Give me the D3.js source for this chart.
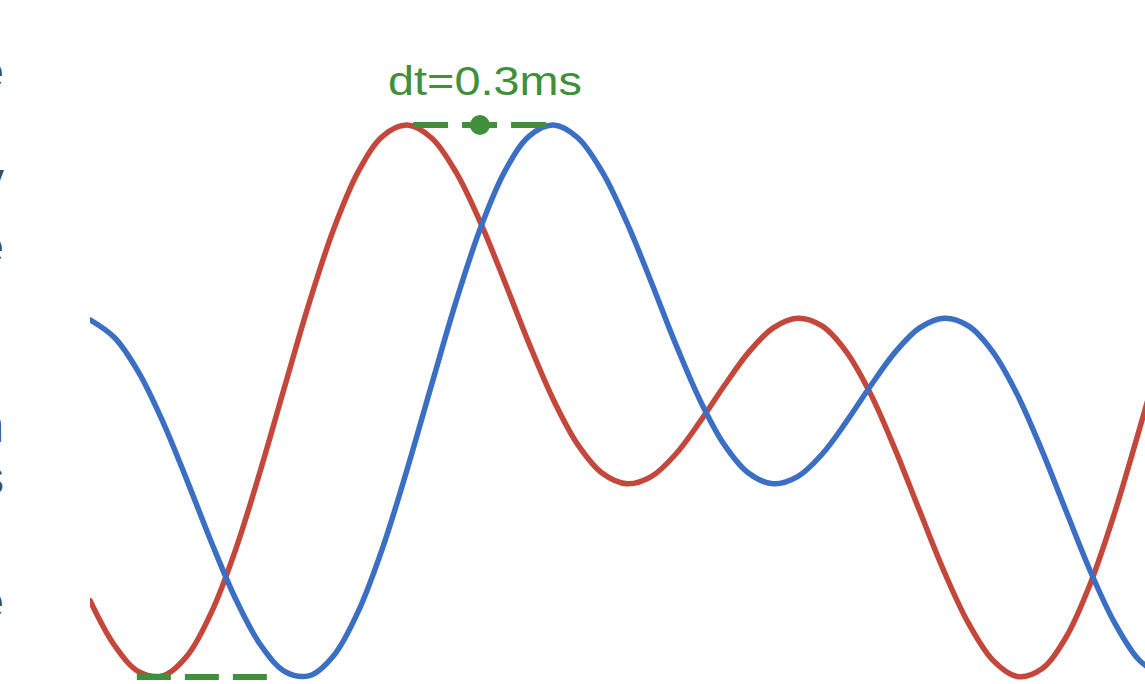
<!DOCTYPE html>
<html>
<head>
<meta charset="utf-8">
<script src="https://cdn.jsdelivr.net/npm/d3@7"></script>
<style>
  html, body { margin: 0; padding: 0; background: #ffffff; overflow: hidden; }
  svg { display: block; }
</style>
</head>
<body>
<svg id="chart" width="1145" height="684"></svg>
<script>
// ---- data (time in ms, amplitude normalised) ----
const timeMs = [0.00,0.05,0.10,0.15,0.20,0.25,0.30,0.35,0.40,0.45,0.50,0.55,0.60,0.65,0.70,0.75,0.80,0.85,0.90,0.95,
                1.00,1.05,1.10,1.15,1.20,1.25,1.30,1.35,1.40,1.45,1.50,1.55,1.60,1.65,1.70,1.75,1.80,1.85,1.90,1.95,
                2.00,2.05,2.10,2.15,2.20];
const redValues = [-0.723,-0.885,-0.981,-0.995,-0.921,-0.761,-0.530,-0.247,0.059,0.360,0.626,0.832,0.960,1.000,0.953,0.829,
                   0.647,0.431,0.207,0.003,-0.159,-0.262,-0.300,-0.274,-0.193,-0.075,0.056,0.177,0.265,0.300,0.272,0.178,
                   0.024,-0.176,-0.398,-0.617,-0.805,-0.939,-0.998,-0.971,-0.856,-0.661,-0.403,-0.105,0.203];
const blueValues = [0.294,0.230,0.103,-0.078,-0.293,-0.517,-0.723,-0.885,-0.981,-0.995,-0.921,-0.761,-0.530,-0.247,0.059,0.360,
                    0.626,0.832,0.960,1.000,0.953,0.829,0.647,0.431,0.207,0.003,-0.159,-0.262,-0.300,-0.274,-0.193,-0.075,
                    0.056,0.177,0.265,0.300,0.272,0.178,0.024,-0.176,-0.398,-0.617,-0.805,-0.939,-0.998];
// annotation (data units)
const peakLink = [0.662, 0.939];     // red peak -> blue peak, at amplitude 1
const peakDot = [0.799];
const troughLink = [0.096, 0.365];   // at amplitude -1
const annotationLabel = ["dt=0.3ms"];
const sideLetters = ["e", "y", "e", "n", "s", "e"];
const sideLetterRows = [88, 196, 263, 442, 494, 618];

// ---- layout ----
const svg = d3.select("#chart");
const x = d3.scaleLinear().domain([0, 2.2]).range([90, 90 + 2.2 * 488]);
const y = d3.scaleLinear().domain([-1, 1]).range([677, 125]);

const RED = "#c4473b", BLUE = "#3b6fc4", GREEN = "#3f8f3b", SLATE = "#3d4a5c";

svg.append("clipPath").attr("id", "plotclip")
  .append("rect").attr("x", 90).attr("y", 0).attr("width", 1145 - 90).attr("height", 684);

const line = d3.line().x(d => x(d[0])).y(d => y(d[1])).curve(d3.curveCatmullRom.alpha(0.5));

const g = svg.append("g").attr("clip-path", "url(#plotclip)");
g.append("path").datum(timeMs.map((t, i) => [t, redValues[i]]))
  .attr("d", line).attr("fill", "none").attr("stroke", RED).attr("stroke-width", 5.5)
  .attr("stroke-linecap", "round");
g.append("path").datum(timeMs.map((t, i) => [t, blueValues[i]]))
  .attr("d", line).attr("fill", "none").attr("stroke", BLUE).attr("stroke-width", 5.5)
  .attr("stroke-linecap", "round");

// dashed annotations
svg.append("line")
  .attr("x1", x(peakLink[0])).attr("x2", x(peakLink[1]))
  .attr("y1", y(1)).attr("y2", y(1))
  .attr("stroke", GREEN).attr("stroke-width", 6).attr("stroke-dasharray", "35,14");
svg.selectAll("circle.dot").data(peakDot).enter().append("circle")
  .attr("class", "dot").attr("cx", d => x(d)).attr("cy", y(1)).attr("r", 10).attr("fill", GREEN);
svg.append("line")
  .attr("x1", x(troughLink[0])).attr("x2", x(troughLink[1]))
  .attr("y1", y(-1)).attr("y2", y(-1))
  .attr("stroke", GREEN).attr("stroke-width", 6).attr("stroke-dasharray", "34,14")
  .attr("stroke-linecap", "butt");

svg.append("text")
  .attr("x", 485).attr("y", 95)
  .attr("text-anchor", "middle")
  .attr("font-family", "'Liberation Sans', Arial, sans-serif")
  .attr("font-size", 40)
  .attr("fill", GREEN)
  .attr("textLength", 194).attr("lengthAdjust", "spacingAndGlyphs")
  .text(annotationLabel[0]);

// clipped text fragments along the left edge
svg.selectAll("text.side").data(sideLetters).enter().append("text")
  .attr("class", "side")
  .attr("x", 4).attr("y", (d, i) => sideLetterRows[i])
  .attr("text-anchor", "end")
  .attr("font-family", "'Liberation Sans', Arial, sans-serif")
  .attr("font-size", 48)
  .attr("fill", SLATE)
  .text(d => d);
</script>
</body>
</html>
